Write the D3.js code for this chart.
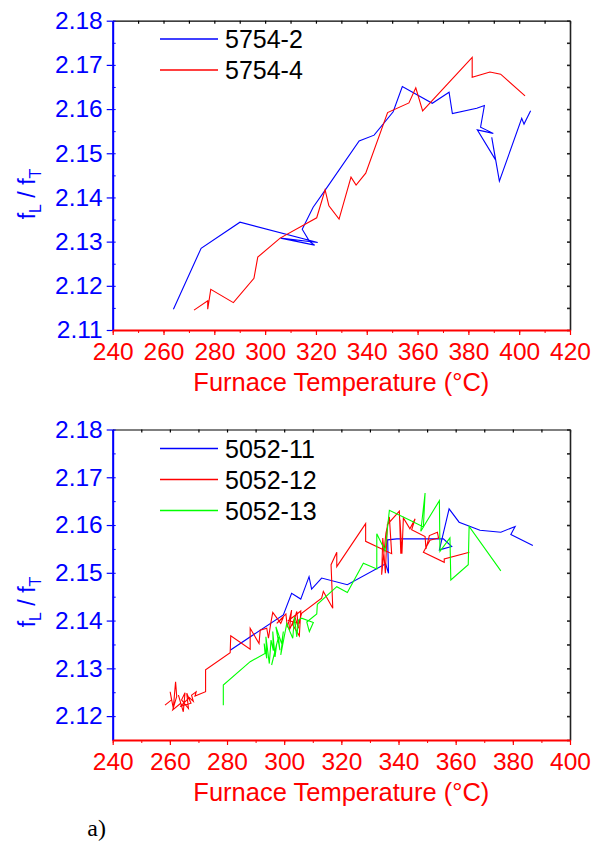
<!DOCTYPE html>
<html>
<head>
<meta charset="utf-8">
<script src="https://cdn.jsdelivr.net/npm/d3@7"></script>
<style>
  body { margin: 0; background: #fff; }
  svg { display: block; font-family: "Liberation Sans", Arial, sans-serif; }
</style>
</head>
<body>
<svg id="chart" width="592" height="848"></svg>
<script>
// Tick labels
const xTicksTop = [240, 260, 280, 300, 320, 340, 360, 380, 400, 420];
const yTicksTop = [2.11, 2.12, 2.13, 2.14, 2.15, 2.16, 2.17, 2.18];
const xTicksBottom = [240, 260, 280, 300, 320, 340, 360, 380, 400];
const yTicksBottom = [2.12, 2.13, 2.14, 2.15, 2.16, 2.17, 2.18];

// Series: [furnace temperature (°C), fL/fT]
const series5754_2 = [
  [263.9, 2.1147], [274.8, 2.1285], [290.1, 2.1344], [320.7, 2.1298], [306.1, 2.1308],
  [319.5, 2.1292], [317.5, 2.1300], [314.6, 2.1328], [318.9, 2.1378], [323.7, 2.1417],
  [337.0, 2.1528], [342.9, 2.1541], [350.4, 2.1594], [354.0, 2.1651], [365.8, 2.1613],
  [372.4, 2.1638], [373.7, 2.1590], [383.3, 2.1602], [386.3, 2.1608], [384.8, 2.1559],
  [389.8, 2.1545], [383.5, 2.1553], [390.7, 2.1485], [389.2, 2.1536], [392.2, 2.1437],
  [401.0, 2.1579], [401.9, 2.1566], [404.5, 2.1596]
];
const series5754_4 = [
  [272.0, 2.1145], [277.4, 2.1166], [277.4, 2.1147], [278.6, 2.1192], [287.5, 2.1162],
  [295.6, 2.1217], [297.1, 2.1265], [305.9, 2.1308], [320.3, 2.1354], [323.6, 2.1417],
  [325.1, 2.1381], [329.1, 2.1351], [333.8, 2.1446], [335.8, 2.1428], [339.6, 2.1455],
  [348.2, 2.1592], [356.6, 2.1614], [359.3, 2.1648], [362.0, 2.1596], [381.5, 2.1717],
  [381.5, 2.1672], [388.5, 2.1684], [392.7, 2.1679], [402.3, 2.1630]
];

const series5052_11 = [
  [281.1, 2.1338], [299.7, 2.1412], [302.6, 2.1457], [305.8, 2.1445], [308.7, 2.1492],
  [309.6, 2.1466], [313.1, 2.1489], [322.1, 2.1475], [335.5, 2.1519], [336.5, 2.1499],
  [336.2, 2.1569], [339.4, 2.1571], [355.7, 2.1571], [358.6, 2.1555], [354.3, 2.1548],
  [357.7, 2.1634], [361.2, 2.1606], [368.5, 2.1589], [375.8, 2.1585], [380.8, 2.1597],
  [379.3, 2.1580], [387.0, 2.1557]
];
const series5052_12 = [
  [258.3, 2.1223], [260.6, 2.1234], [260.1, 2.1251], [261.2, 2.1216], [262.0, 2.1272],
  [262.4, 2.1241], [261.0, 2.1213], [263.8, 2.1227], [263.0, 2.1244], [264.7, 2.1209],
  [265.3, 2.1249], [264.1, 2.1234], [266.5, 2.1216], [265.9, 2.1248], [267.4, 2.1227],
  [263.6, 2.1220], [266.8, 2.1239], [268.2, 2.1231], [267.6, 2.1244], [269.2, 2.1251],
  [268.8, 2.1242], [272.5, 2.1251], [272.5, 2.1297], [281.1, 2.1333], [281.3, 2.1368],
  [288.1, 2.1340], [288.1, 2.1384], [291.2, 2.1352], [291.6, 2.1380], [293.9, 2.1384],
  [294.5, 2.1363], [295.3, 2.1394], [296.0, 2.1417], [298.8, 2.1394], [299.7, 2.1407],
  [297.4, 2.1394], [300.6, 2.1414], [301.1, 2.1386], [302.6, 2.1422], [301.8, 2.1380],
  [303.8, 2.1407], [305.0, 2.1384], [304.4, 2.1419], [303.0, 2.1391], [305.3, 2.1368],
  [305.8, 2.1420], [301.5, 2.1400], [305.1, 2.1394], [306.1, 2.1415], [313.1, 2.1447],
  [313.7, 2.1461], [317.0, 2.1426], [316.4, 2.1517], [318.4, 2.1543], [318.4, 2.1513],
  [328.5, 2.1603], [328.5, 2.1566], [337.6, 2.1540], [336.8, 2.1617], [335.6, 2.1583],
  [334.1, 2.1496], [334.5, 2.1573], [335.4, 2.1499], [336.1, 2.1601], [340.3, 2.1629],
  [340.8, 2.1540], [340.5, 2.1611], [341.2, 2.1540], [341.7, 2.1615], [344.0, 2.1592],
  [345.8, 2.1613], [344.6, 2.1590], [349.3, 2.1576], [349.6, 2.1550], [350.8, 2.1578],
  [353.6, 2.1585], [354.0, 2.1573], [351.0, 2.1568], [348.7, 2.1543], [356.0, 2.1522],
  [356.0, 2.1529], [364.8, 2.1543]
];
const series5052_13 = [
  [278.7, 2.1223], [278.7, 2.1265], [288.1, 2.1314], [293.3, 2.1331], [293.0, 2.1352],
  [293.9, 2.1321], [293.6, 2.1366], [294.8, 2.1310], [295.4, 2.1359], [296.2, 2.1337],
  [296.0, 2.1377], [296.8, 2.1324], [297.4, 2.1352], [295.6, 2.1307], [298.0, 2.1366],
  [298.5, 2.1338], [297.1, 2.1387], [299.1, 2.1352], [299.7, 2.1377], [298.8, 2.1328],
  [300.9, 2.1394], [302.0, 2.1377], [303.0, 2.1363], [303.6, 2.1408], [304.4, 2.1366],
  [305.0, 2.1401], [306.1, 2.1405], [310.2, 2.1396], [308.8, 2.1377], [307.9, 2.1397],
  [311.4, 2.1414], [311.6, 2.1434], [318.4, 2.1471], [322.1, 2.1459], [327.7, 2.1520],
  [332.4, 2.1508], [332.4, 2.1582], [335.3, 2.1546], [336.8, 2.1631], [344.0, 2.1610],
  [348.7, 2.1596], [349.3, 2.1667], [347.8, 2.1587], [349.9, 2.1608], [354.3, 2.1651],
  [354.5, 2.1545], [358.0, 2.1573], [358.3, 2.1485], [364.4, 2.1517], [364.7, 2.1597],
  [375.8, 2.1504]
];

const svg = d3.select("#chart");

function drawPanel(cfg) {
  const x = d3.scaleLinear().domain(cfg.xDomain).range([cfg.left, cfg.right]);
  const y = d3.scaleLinear().domain(cfg.yDomain).range([cfg.bottom, cfg.top]);
  const g = svg.append("g");

  const minorX = d3.range(cfg.xDomain[0], cfg.xDomain[1] + 0.1, 10);
  const minorY = d3.range(cfg.yDomain[0], cfg.yDomain[1] + 0.0001, 0.005);

  // top & right frame (black, inward ticks)
  const topAxis = g.append("g")
    .attr("transform", `translate(0,${cfg.top})`)
    .call(d3.axisTop(x).tickValues(minorX).tickSize(-3).tickSizeOuter(0).tickFormat(""));
  const rightAxis = g.append("g")
    .attr("transform", `translate(${cfg.right},0)`)
    .call(d3.axisRight(y).tickValues(minorY).tickSize(-3).tickSizeOuter(0).tickFormat(""));
  topAxis.selectAll("path, line").attr("stroke", "#000").attr("stroke-width", 1.2);
  rightAxis.selectAll("path, line").attr("stroke", "#222").attr("stroke-width", 1.6);

  // data lines
  const line = d3.line().x(d => x(d[0])).y(d => y(d[1]));
  cfg.series.forEach(s => {
    g.append("path")
      .datum(s.values)
      .attr("d", line)
      .attr("fill", "none")
      .attr("stroke", s.color)
      .attr("stroke-width", 1.1)
      .attr("stroke-linejoin", "miter");
  });

  // left axis (blue)
  g.append("g")
    .attr("transform", `translate(${cfg.left},0)`)
    .call(d3.axisLeft(y).tickValues(minorY).tickSize(-3).tickSizeOuter(0).tickFormat(""))
    .selectAll("path, line").attr("stroke", "#0000ff");
  const leftAxis = g.append("g")
    .attr("transform", `translate(${cfg.left},0)`)
    .call(d3.axisLeft(y).tickValues(cfg.yTicks).tickSize(6).tickPadding(4)
      .tickSizeOuter(0).tickFormat(d3.format(".2f")));
  leftAxis.select(".domain").attr("stroke", "#0000ff").attr("stroke-width", 2);
  leftAxis.selectAll("line").attr("stroke", "#0000ff").attr("stroke-width", 1.2);
  leftAxis.selectAll("text")
    .attr("fill", "#0000ff")
    .attr("font-size", 24.5)
    .attr("font-family", "Liberation Sans, Arial, sans-serif");

  // bottom axis (red)
  g.append("g")
    .attr("transform", `translate(0,${cfg.bottom})`)
    .call(d3.axisBottom(x).tickValues(minorX).tickSize(3).tickSizeOuter(0).tickFormat(""))
    .selectAll("path, line").attr("stroke", "#ff0000");
  const bottomAxis = g.append("g")
    .attr("transform", `translate(0,${cfg.bottom})`)
    .call(d3.axisBottom(x).tickValues(cfg.xTicks).tickSize(5).tickPadding(8)
      .tickSizeOuter(0).tickFormat(d3.format("d")));
  bottomAxis.select(".domain").attr("stroke", "#ff0000").attr("stroke-width", 2);
  bottomAxis.selectAll("line").attr("stroke", "#ff0000").attr("stroke-width", 1.2);
  bottomAxis.selectAll("text")
    .attr("fill", "#ff0000")
    .attr("font-size", 24.5)
    .attr("font-family", "Liberation Sans, Arial, sans-serif");

  // x axis title
  g.append("text")
    .attr("x", (cfg.left + cfg.right) / 2)
    .attr("y", cfg.bottom + 61)
    .attr("text-anchor", "middle")
    .attr("fill", "#ff0000")
    .attr("font-size", 25.5)
    .text("Furnace Temperature (°C)");

  // y axis title f_L / f_T
  const yl = g.append("text")
    .attr("transform", `translate(35,${cfg.yLabelY}) rotate(-90)`)
    .attr("text-anchor", "middle")
    .attr("fill", "#0000ff")
    .attr("font-size", 23);
  yl.append("tspan").text("f");
  yl.append("tspan").attr("font-size", 16).attr("dy", 6).text("L");
  yl.append("tspan").attr("dy", -6).text(" / f");
  yl.append("tspan").attr("font-size", 16).attr("dy", 6).text("T");

  // legend
  cfg.series.forEach((s, i) => {
    const ly = cfg.legendY + i * 31;
    g.append("line")
      .attr("x1", 160).attr("x2", 218)
      .attr("y1", ly).attr("y2", ly)
      .attr("stroke", s.color)
      .attr("stroke-width", 1.3);
    g.append("text")
      .attr("x", 225)
      .attr("y", ly + 9)
      .attr("font-size", 25)
      .attr("fill", "#000")
      .text(s.name);
  });
}

drawPanel({
  left: 112.7, right: 570, top: 20.7, bottom: 330,
  xDomain: [240, 420], yDomain: [2.11, 2.18],
  xTicks: xTicksTop, yTicks: yTicksTop,
  yLabelY: 194, legendY: 39,
  series: [
    { name: "5754-2", color: "#0000ff", values: series5754_2 },
    { name: "5754-4", color: "#ff0000", values: series5754_4 }
  ]
});

drawPanel({
  left: 112.7, right: 570, top: 429.5, bottom: 740,
  xDomain: [240, 400], yDomain: [2.115, 2.18],
  xTicks: xTicksBottom, yTicks: yTicksBottom,
  yLabelY: 602, legendY: 448.5,
  series: [
    { name: "5052-11", color: "#0000ff", values: series5052_11 },
    { name: "5052-12", color: "#ff0000", values: series5052_12 },
    { name: "5052-13", color: "#00ff00", values: series5052_13 }
  ]
});

// panel tag
svg.append("text")
  .attr("x", 106)
  .attr("y", 836)
  .attr("text-anchor", "end")
  .attr("font-family", "Liberation Serif, Times New Roman, serif")
  .attr("font-size", 24)
  .attr("fill", "#000")
  .text("a)");
</script>
</body>
</html>
